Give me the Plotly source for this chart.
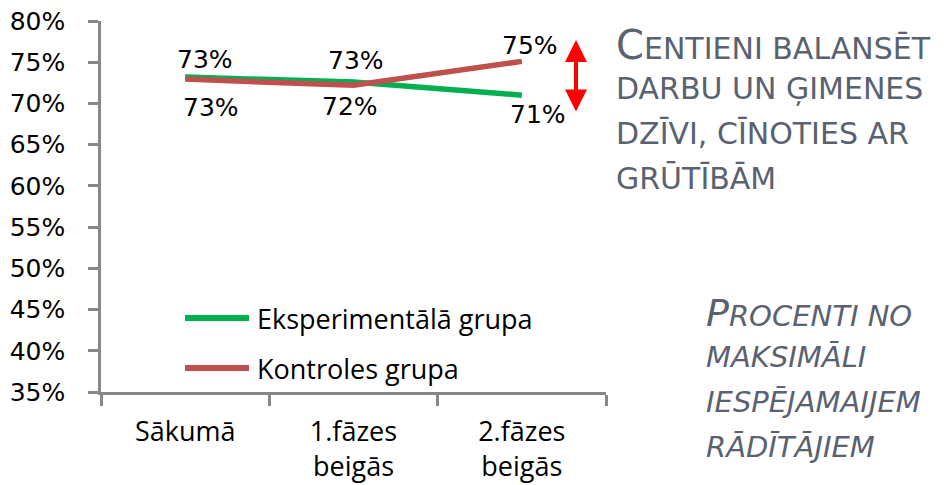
import plotly.graph_objects as go

categories = ["Sākumā", "1.fāzes<br>beigās", "2.fāzes<br>beigās"]
eksperimentala = [73.2, 72.6, 71.0]
kontroles = [72.95, 72.2, 75.1]
eks_labels = ["73%", "73%", "71%"]
kon_labels = ["73%", "72%", "75%"]
series_names = ["Eksperimentālā grupa", "Kontroles grupa"]
y_ticks = [35, 40, 45, 50, 55, 60, 65, 70, 75, 80]

GREEN = "#00B050"
RED = "#C0504D"
AXIS = "#878787"
SIDE = "#5A6270"

# plot area in screen pixels (page body adds an 8px offset)
PL, PR, PT, PB = 101, 606, 21, 392
PW, PH = PR - PL, PB - PT


def px(x):
    return (x - PL) / PW


def py(y):
    return (PB - y) / PH


fig = go.Figure()
fig.add_trace(go.Scatter(x=categories, y=eksperimentala, mode="lines", name=series_names[0],
                         line=dict(color=GREEN, width=5.5), showlegend=False))
fig.add_trace(go.Scatter(x=categories, y=kontroles, mode="lines", name=series_names[1],
                         line=dict(color=RED, width=5.5), showlegend=False))

lab_font = dict(family="DejaVu Sans", size=25, color="#000000")
eks_shift = [(20, 18), (2, 22), (16, -19)]
kon_shift = [(26, -28), (-4, -21), (8, 16)]
for i, c in enumerate(categories):
    fig.add_annotation(x=c, y=eksperimentala[i], text=eks_labels[i], showarrow=False,
                       xshift=eks_shift[i][0], yshift=eks_shift[i][1], font=lab_font)
    fig.add_annotation(x=c, y=kontroles[i], text=kon_labels[i], showarrow=False,
                       xshift=kon_shift[i][0], yshift=kon_shift[i][1], font=lab_font)

# custom legend (long sample lines as in the original)
for name, col, yy in [(series_names[0], GREEN, 318), (series_names[1], RED, 368)]:
    fig.add_shape(type="line", xref="paper", yref="paper", x0=px(185), x1=px(249),
                  y0=py(yy), y1=py(yy), line=dict(color=col, width=6))
    fig.add_annotation(xref="paper", yref="paper", x=px(255), y=py(yy), xanchor="left",
                       yanchor="middle", showarrow=False, text=name,
                       font=dict(family="Open Sans", size=27, color="#000000"))

# double-headed red arrow
fig.add_annotation(xref="paper", yref="paper", x=px(576), y=py(40), ax=0, ay=73,
                   text="", showarrow=True,
                   arrowside="end+start", arrowhead=2, arrowsize=1.1, arrowwidth=4,
                   arrowcolor="#FF0000")

side1 = [("C", "ENTIENI BALANSĒT"), ("", "DARBU UN ĢIMENES"), ("", "DZĪVI, CĪNOTIES AR"), ("", "GRŪTĪBĀM")]
side2 = [("P", "ROCENTI NO"), ("", "MAKSIMĀLI"), ("", "IESPĒJAMAIJEM"), ("", "RĀDĪTĀJIEM")]
y1 = [45, 89, 133, 178]
y2 = [313, 357, 402, 447]
for (b, s), yy in zip(side1, y1):
    t = (f"<span style='font-size:40px'>{b}</span>" if b else "") + s
    fig.add_annotation(xref="paper", yref="paper", x=px(614), y=py(yy),
                       xanchor="left", yanchor="middle", showarrow=False, text=t,
                       font=dict(family="DejaVu Sans", size=30, color=SIDE))
for (b, s), yy in zip(side2, y2):
    t = (f"<span style='font-size:38px'>{b}</span>" if b else "") + s
    fig.add_annotation(xref="paper", yref="paper", x=px(704), y=py(yy),
                       xanchor="left", yanchor="middle", showarrow=False, text=f"<i>{t}</i>",
                       font=dict(family="DejaVu Sans", size=29, color=SIDE))

fig.update_layout(
    width=937, height=477,
    margin=dict(l=PL - 8, r=945 - PR, t=PT - 8, b=485 - PB, autoexpand=False),
    paper_bgcolor="white", plot_bgcolor="white",
    showlegend=False,
    xaxis=dict(type="category", range=[-0.5, 2.5], showgrid=False, showline=True,
               linecolor=AXIS, linewidth=2.5, ticks="outside", tickson="boundaries",
               ticklen=11, tickwidth=2.5, tickcolor=AXIS, ticklabelstandoff=14, automargin=False,
               ticklabeloverflow="allow",
               tickfont=dict(family="Open Sans", size=27, color="#000000")),
    yaxis=dict(range=[35, 80], tickvals=y_ticks, ticktext=[f"{v}%" for v in y_ticks],
               showgrid=False, zeroline=False, showline=True, linecolor=AXIS, linewidth=2.5,
               ticks="outside", ticklen=10, tickwidth=2.5, tickcolor=AXIS, ticklabelstandoff=18,
               automargin=False, ticklabeloverflow="allow",
               tickfont=dict(family="DejaVu Sans", size=25, color="#000000")),
)

fig.write_html("out.html")
